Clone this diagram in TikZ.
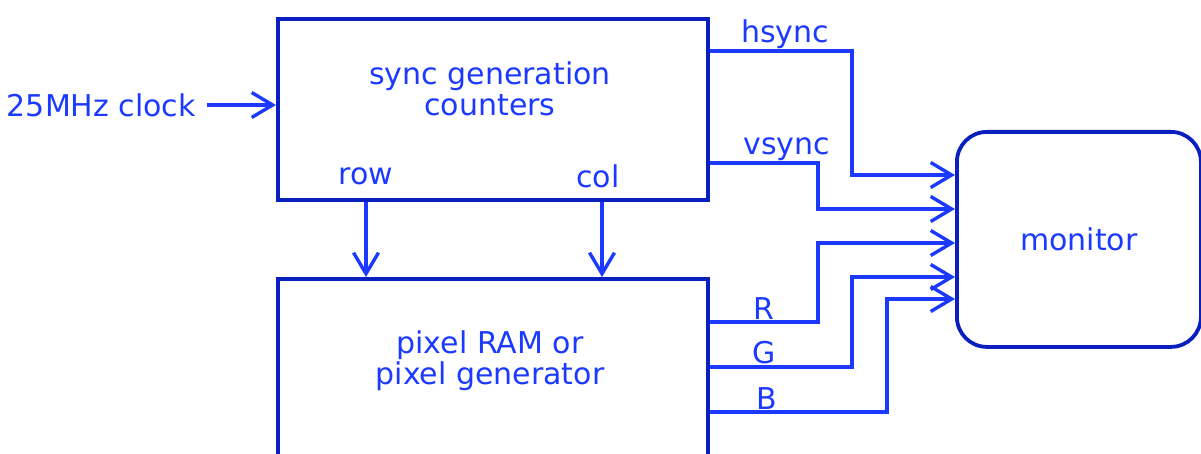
\documentclass[tikz,border=0pt]{standalone}
\usepackage{fontspec}
\setmainfont{DejaVu Sans}
\usepackage{tikz}
\usetikzlibrary{positioning,calc,arrows.meta}
\definecolor{wire}{RGB}{28,58,255}
\definecolor{frame}{RGB}{10,32,190}

\begin{document}
\begin{tikzpicture}[x=1pt,y=-1pt,font=\fontsize{30}{31}\selectfont,
 txt/.style={text=wire,inner sep=1pt,align=center},
 blk/.style={draw=frame,line width=3.8pt,inner sep=0pt},
 ar/.style={-{Straight Barb[length=21pt,width=25pt,line width=3.4pt]},draw=wire,line width=3.4pt}]
\clip (0,0) rectangle (1201,454);
% blocks
\node[blk,minimum width=430pt,minimum height=181pt,anchor=north west] (sync) at (276,17) {};
\node[blk,minimum width=430pt,minimum height=220pt,anchor=north west] (pix) at (276,277) {};
\node[blk,rounded corners=30pt,minimum width=244pt,minimum height=215pt,anchor=north west] (mon) at (955,130) {};
\node[txt] (synctxt) at (490,89) {sync generation\\counters};
\node[txt] (pixtxt) at (490,361) {pixel RAM or\\pixel generator};
\node[txt] (montxt) at (mon.center) {monitor};
\node[txt] (row) at (366,176) {row};
\node[txt] (col) at (598,176) {col};
\node[txt,anchor=east] (clk) at (197,105) {25MHz clock};
% monitor inputs
\coordinate (m1) at (mon.west |- 0,175);
\coordinate (m2) at (mon.west |- 0,209);
\coordinate (m3) at (mon.west |- 0,243);
\coordinate (m4) at (mon.west |- 0,277);
\coordinate (m5) at (mon.west |- 0,299);
% wires
\draw[ar] (clk.east -| 207,0) -- (sync.west |- clk.east);
\draw[ar] (sync.south -| row) -- (pix.north -| row);
\draw[ar] ($(sync.south -| col)+(4,0)$) -- ($(pix.north -| col)+(4,0)$);
\draw[ar] (sync.east |- 0,51) -- node[txt,above,pos=0.53]{hsync} (852,51) |- (m1);
\draw[ar] (sync.east |- 0,163) -- node[txt,above,pos=0.71]{vsync} (818,163) |- (m2);
\draw[ar] (pix.east |- 0,322) -- node[txt,above,pos=0.5]{R} (818,322) |- (m3);
\draw[ar] (pix.east |- 0,367) -- node[txt,above,pos=0.38]{G} (852,367) |- (m4);
\draw[ar] (pix.east |- 0,412) -- node[txt,above,pos=0.32]{B} (887,412) |- (m5);
\end{tikzpicture}
\end{document}
